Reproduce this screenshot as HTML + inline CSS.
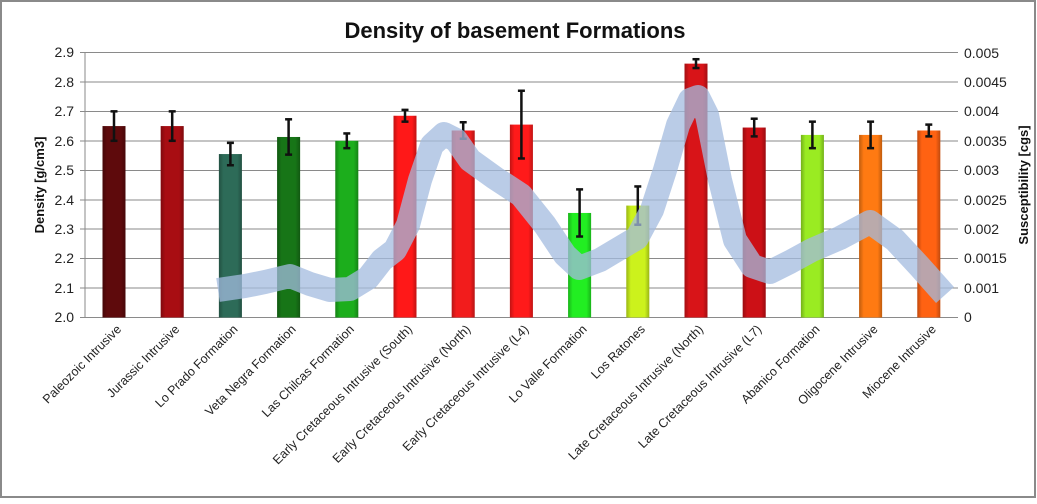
<!DOCTYPE html>
<html><head><meta charset="utf-8"><style>
body{margin:0;background:#fff}
svg text{font-family:"Liberation Sans",sans-serif}
</style></head><body>
<svg width="1037" height="499" viewBox="0 0 1037 499" xmlns="http://www.w3.org/2000/svg">
<rect x="1" y="1" width="1034" height="496" fill="#fff" stroke="#8a8a8a" stroke-width="2"/>
<text x="515" y="38" font-size="22" font-weight="bold" text-anchor="middle" fill="#111">Density of basement Formations</text>
<g stroke="#8a8a8a" stroke-width="1">
<line x1="80" x2="958" y1="52.5" y2="52.5"/><line x1="80" x2="958" y1="82" y2="82"/><line x1="80" x2="958" y1="111.5" y2="111.5"/>
<line x1="80" x2="958" y1="141" y2="141"/><line x1="80" x2="958" y1="170.5" y2="170.5"/><line x1="80" x2="958" y1="200" y2="200"/>
<line x1="80" x2="958" y1="229" y2="229"/><line x1="80" x2="958" y1="258.5" y2="258.5"/><line x1="80" x2="958" y1="288" y2="288"/>
<line x1="80" x2="958" y1="317.5" y2="317.5"/><line x1="85" x2="85" y1="52" y2="318"/>
</g>
<g font-size="14" fill="#222" text-anchor="end">
<text x="74" y="57">2.9</text><text x="74" y="87">2.8</text><text x="74" y="116">2.7</text><text x="74" y="146">2.6</text><text x="74" y="175">2.5</text><text x="74" y="205">2.4</text><text x="74" y="234">2.3</text><text x="74" y="263">2.2</text><text x="74" y="293">2.1</text><text x="74" y="322">2.0</text>
</g>
<g font-size="14" fill="#222">
<text x="964" y="58">0.005</text><text x="964" y="87">0.0045</text><text x="964" y="116">0.004</text><text x="964" y="146">0.0035</text><text x="964" y="175">0.003</text><text x="964" y="205">0.0025</text><text x="964" y="234">0.002</text><text x="964" y="263">0.0015</text><text x="964" y="293">0.001</text><text x="964" y="322">0</text>
</g>
<text transform="translate(44,185) rotate(-90)" font-size="13" font-weight="bold" text-anchor="middle" fill="#111">Density [g/cm3]</text>
<text transform="translate(1028,185) rotate(-90)" font-size="13" font-weight="bold" text-anchor="middle" fill="#111">Susceptibility [cgs]</text>
<defs><linearGradient id="g" x1="0" x2="1"><stop offset="0" stop-color="#000" stop-opacity=".25"/><stop offset=".2" stop-color="#000" stop-opacity="0"/><stop offset=".8" stop-color="#000" stop-opacity="0"/><stop offset="1" stop-color="#000" stop-opacity=".25"/></linearGradient></defs>
<g id="bars"></g>
<polyline fill="none" stroke="#a3bbdf" stroke-opacity="0.75" stroke-width="24" stroke-linejoin="round" points="218,290 245,286 265,282 290,276 310,284 330,290 350,289 368,278 382,260 395,250 408,225 420,180 432,145 444,134 456,140 470,160 495,178 521,195 545,225 565,255 579,268 600,260 637,238 652,210 665,170 678,125 690,100 698,97 707,115 720,180 735,240 752,266 770,272 790,262 812,250 840,238 870,222 895,240 920,267 945,295"/>
<g font-size="12.5" fill="#222" text-anchor="end" id="labs"></g>
</svg>
<script>
var v=[2.65,2.65,2.555,2.613,2.60,2.685,2.635,2.655,2.355,2.38,2.862,2.645,2.62,2.62,2.635];
var e=[.05,.05,.038,.06,.025,.02,.028,.115,.08,.065,.015,.03,.045,.045,.02];
var c=["#5e0a0c","#a80d12","#2d6b58","#177517","#1cae1c","#ff1818","#f21c1c","#ff1a1a","#22ee22","#ccf21c","#d81418","#cc1016","#9aeb22","#ff7a12","#ff6212"];
var n=["Paleozoic Intrusive","Jurassic Intrusive","Lo Prado Formation","Veta Negra Formation","Las Chilcas Formation","Early Cretaceous Intrusive (South)","Early Cretaceous Intrusive (North)","Early Cretaceous Intrusive (L4)","Lo Valle Formation","Los Ratones","Late Cretaceous Intrusive (North)","Late Cretaceous Intrusive (L7)","Abanico Formation","Oligocene Intrusive","Miocene Intrusive"];
function y(d){return 317.5-(d-2)*294.5}
var s="",l="";
for(var i=0;i<15;i++){var cx=114+i*58.2,t=y(v[i]);
s+='<rect x="'+(cx-11.5)+'" y="'+t+'" width="23" height="'+(317.5-t)+'" fill="'+c[i]+'"/><rect x="'+(cx-11.5)+'" y="'+t+'" width="23" height="'+(317.5-t)+'" fill="url(#g)"/>';
var a=y(v[i]+e[i]),b=y(v[i]-e[i]);
s+='<g stroke="#111" stroke-width="2.5"><line x1="'+cx+'" x2="'+cx+'" y1="'+a+'" y2="'+b+'"/><line x1="'+(cx-3.5)+'" x2="'+(cx+3.5)+'" y1="'+a+'" y2="'+a+'"/><line x1="'+(cx-3.5)+'" x2="'+(cx+3.5)+'" y1="'+b+'" y2="'+b+'"/></g>';
l+='<text transform="translate('+(cx+8)+',330) rotate(-45)">'+n[i]+'</text>';}
document.getElementById("bars").innerHTML=s;document.getElementById("labs").innerHTML=l;
</script>
</body></html>
